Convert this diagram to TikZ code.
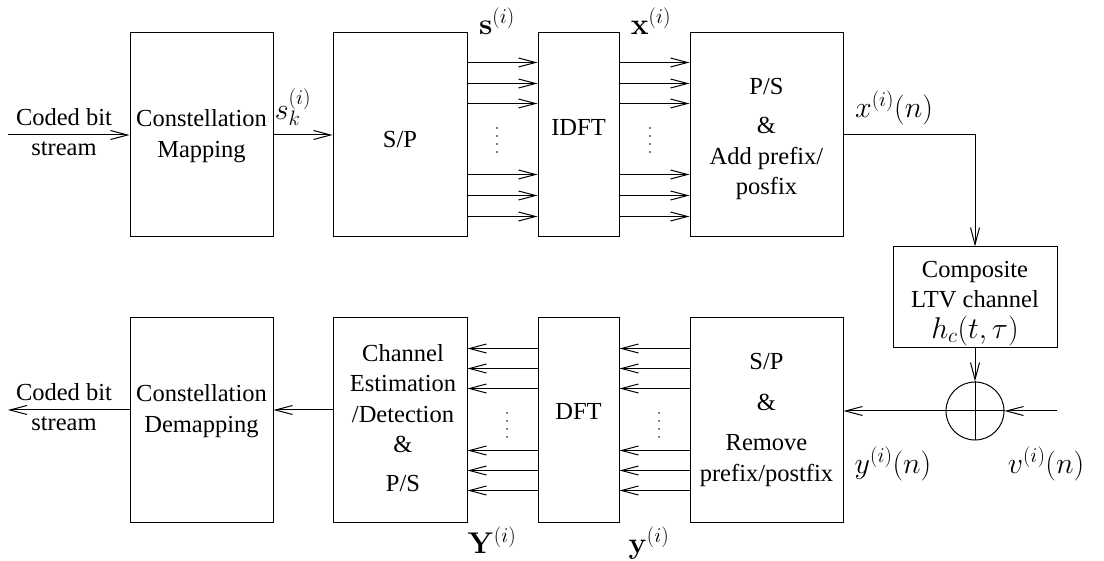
\RequirePackage{fix-cm}
\documentclass[tikz,border=0pt]{standalone}
\usepackage[no-math]{fontspec}
\setmainfont{Liberation Serif}
\usetikzlibrary{arrows.meta,calc}

\begin{document}
\begin{tikzpicture}[x=1pt,y=-1pt,
  every node/.style={font=\fontsize{24.5}{30.5}\selectfont},
  blk/.style={draw, line width=1pt, inner sep=0pt, minimum height=204pt},
  txt/.style={align=center, inner sep=0pt},
  mth/.style={inner sep=0pt, font=\fontsize{30}{34}\selectfont},
  wire/.style={line width=1pt},
  arr/.style={line width=1pt, -{Straight Barb[length=17pt,width=9pt,line width=1pt]}}]
\useasboundingbox (0,0) rectangle (1104,561);

% ---------------- transmitter ----------------
\node[blk, minimum width=143pt,
      label={[txt,yshift=-1pt]center:{Constellation\\Mapping}}] (map) at (201.5,135) {};
\node[blk, minimum width=134pt,
      label={[txt,yshift=-5pt]center:{S/P}}] (sp) at (400,135) {};
\node[blk, minimum width=81pt,
      label={[txt,yshift=7pt]center:{IDFT}}] (idft) at (578.5,135) {};
\node[blk, minimum width=153pt,
      label={[txt,yshift=-4pt]center:{P/S\\[9pt]\&\\Add prefix/\\posfix}}] (ps) at (766.5,135) {};

% ---------------- channel ----------------
\node[draw, line width=1pt, inner sep=0pt, minimum width=164pt, minimum height=101pt,
      label={[txt,yshift=-6pt]center:{Composite\\LTV channel\\{\fontsize{30}{30}\selectfont$h_c(t,\tau)$}}}]
      (chan) at (975,297.5) {};
\node[draw, circle, line width=1pt, minimum size=58pt, inner sep=0pt] (sum) at (975,411) {};

% ---------------- receiver ----------------
\node[blk, minimum width=143pt,
      label={[txt,yshift=9pt]center:{Constellation\\Demapping}}] (demap) at (201.5,420) {};
\node[blk, minimum width=134pt,
      label={[txt,xshift=3pt,yshift=2pt]center:{Channel\\Estimation\\/Detection\\\&\\[8pt]P/S}}] (est) at (400,420) {};
\node[blk, minimum width=81pt,
      label={[txt,yshift=8pt]center:{DFT}}] (dft) at (578.5,420) {};
\node[blk, minimum width=153pt,
      label={[txt]center:{S/P\\[10pt]\&\\[10pt]Remove\\prefix/postfix}}] (rsp) at (766.5,420) {};

% ---------------- free ends ----------------
\coordinate (in)  at (8,135);
\coordinate (out) at (8,410);
\coordinate (vin) at (1057,411);

% ---------------- connectors ----------------
\draw[arr] (in) -- (map.west);
\draw[arr] (map.east) -- (sp.west);
\foreach \d in {30,51,71,142,163,184} {
  \draw[arr] ([yshift=-\d pt]sp.north east) -- ([yshift=-\d pt]idft.north west);
  \draw[arr] ([yshift=-\d pt]idft.north east) -- ([yshift=-\d pt]ps.north west);
}
\draw[arr] (ps.east) -| (chan.north);
\draw[arr] (chan.south) -- (sum.north);
\draw[wire] (sum.north) -- (sum.south);
\draw[wire] (sum.west) -- (sum.east);
\draw[arr] (vin) -- (sum.east);
\draw[arr] (sum.west) -- (sum.west -| rsp.east);
\foreach \d in {31,51,71,133,153,173} {
  \draw[arr] ([yshift=-\d pt]rsp.north west) -- ([yshift=-\d pt]dft.north east);
  \draw[arr] ([yshift=-\d pt]dft.north west) -- ([yshift=-\d pt]est.north east);
}
\draw[arr] ([yshift=10pt]est.west) -- ([yshift=10pt]demap.east);
\draw[arr] ([yshift=10pt]demap.west) -- (out);

% ---------------- vertical ellipses between the parallel lines ----------------
\foreach \x in {497,650} \foreach \y in {128,136,144,152} \fill (\x,\y) circle (0.8pt);
\foreach \x in {507,659} \foreach \y in {413,421,429,437} \fill (\x,\y) circle (0.8pt);

% ---------------- text labels ----------------
\node[txt] (inlbl)  at (64,132) {Coded bit\\stream};
\node[txt] (outlbl) at (64,407) {Coded bit\\stream};

\node[mth] (lsk) at (293,107) {$s_k^{(i)}$};
\node[mth] (ls)  at (497,21)  {$\mathbf{s}^{(i)}$};
\node[mth] (lx)  at (651,21)  {$\mathbf{x}^{(i)}$};
\node[mth] (lxn) at (894,108) {$x^{(i)}(n)$};
\node[mth] (lyn) at (893,464) {$y^{(i)}(n)$};
\node[mth] (lvn) at (1046,464) {$v^{(i)}(n)$};
\node[mth] (lY)  at (492,540) {$\mathbf{Y}^{(i)}$};
\node[mth] (ly)  at (649,543) {$\mathbf{y}^{(i)}$};
\end{tikzpicture}
\end{document}
